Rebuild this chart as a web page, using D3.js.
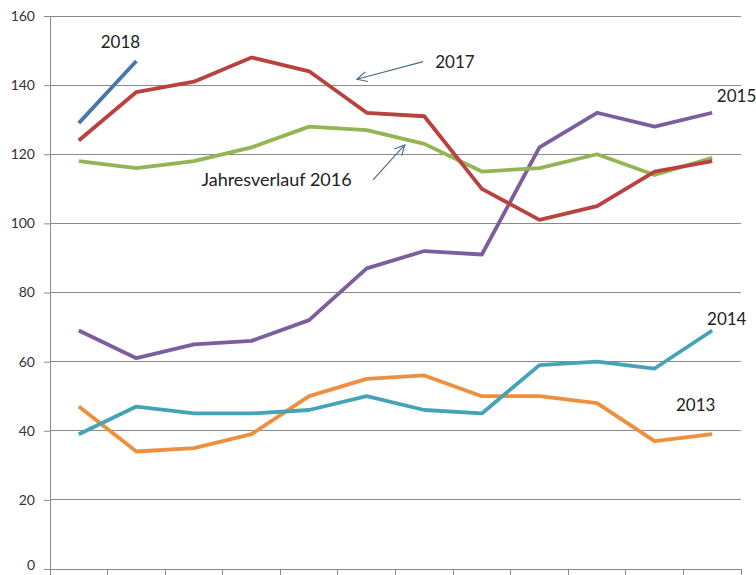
<!DOCTYPE html>
<html>
<head>
<meta charset="utf-8">
<script src="https://cdn.jsdelivr.net/npm/d3@7"></script>
<style>
  html, body { margin: 0; padding: 0; background: #fff; }
  svg { display: block; }
  text { font-family: Lato, "Open Sans", sans-serif; }
</style>
</head>
<body>
<svg id="chart" width="756" height="575"></svg>
<script>
// Months of the year (one band per month)
const months = ["Jan", "Feb", "Mär", "Apr", "Mai", "Jun", "Jul", "Aug", "Sep", "Okt", "Nov", "Dez"];
const yTicks = [0, 20, 40, 60, 80, 100, 120, 140, 160];

// Monthly values per year
const values2013 = [47, 34, 35, 39, 50, 55, 56, 50, 50, 48, 37, 39];
const values2014 = [39, 47, 45, 45, 46, 50, 46, 45, 59, 60, 58, 69];
const values2015 = [69, 61, 65, 66, 72, 87, 92, 91, 122, 132, 128, 132];
const values2016 = [118, 116, 118, 122, 128, 127, 123, 115, 116, 120, 114, 119];
const values2017 = [124, 138, 141, 148, 144, 132, 131, 110, 101, 105, 115, 118];
const values2018 = [129, 147];

const seriesColors = {
  "2013": "#ef8f3e",
  "2014": "#45a3b8",
  "2015": "#7c5e9f",
  "2016": "#93b553",
  "2017": "#b9413e",
  "2018": "#4a76ad"
};

const series = [
  { name: "2013", values: values2013 },
  { name: "2014", values: values2014 },
  { name: "2015", values: values2015 },
  { name: "2016", values: values2016 },
  { name: "2017", values: values2017 },
  { name: "2018", values: values2018 }
];

const svg = d3.select("#chart");
const margin = { left: 50, right: 15, top: 16, bottom: 6 };
const width = 756, height = 575;
const plotRight = width - margin.right;
const plotBottom = height - margin.bottom;

const xBand = d3.scaleBand().domain(months).range([margin.left, plotRight]).paddingInner(0).paddingOuter(0);
const x = d3.scalePoint().domain(months).range([margin.left, plotRight]).padding(0.5);
const y = d3.scaleLinear().domain([0, 160]).range([plotBottom, margin.top]);

// fractional month position, used for placing annotations
const xf = f => x(months[0]) + f * x.step();

// Horizontal gridlines
svg.append("g")
  .selectAll("line")
  .data(yTicks.filter(d => d > 0))
  .join("line")
  .attr("x1", margin.left).attr("x2", plotRight)
  .attr("y1", d => y(d)).attr("y2", d => y(d))
  .attr("stroke", "#8a8a8a").attr("stroke-width", 1)
  .attr("shape-rendering", "crispEdges");

// Y axis
const yAxis = svg.append("g")
  .attr("transform", `translate(${margin.left},0)`)
  .call(d3.axisLeft(y).tickValues(yTicks).tickSize(6).tickPadding(9));
yAxis.select(".domain").attr("stroke", "#8a8a8a");
yAxis.selectAll(".tick line").attr("stroke", "#8a8a8a");
yAxis.selectAll(".tick text").attr("fill", "#333").style("font-size", "14px");
// keep the bottom label inside the frame
yAxis.selectAll(".tick text").filter(d => d === 0).attr("dy", "0.05em");

// X axis: band boundary ticks pointing down, labels fall below the visible area
const xAxis = svg.append("g")
  .attr("transform", `translate(0,${plotBottom})`);
xAxis.append("line")
  .attr("x1", margin.left).attr("x2", plotRight)
  .attr("stroke", "#8a8a8a").attr("shape-rendering", "crispEdges");
const boundaries = months.map(m => xBand(m)).concat([plotRight]);
xAxis.selectAll("line.tk")
  .data(boundaries)
  .join("line")
  .attr("class", "tk")
  .attr("x1", d => d).attr("x2", d => d)
  .attr("y1", 0).attr("y2", 7)
  .attr("stroke", "#8a8a8a").attr("shape-rendering", "crispEdges");

// Lines
const line = d3.line()
  .x((d, i) => x(months[i]))
  .y(d => y(d));

svg.append("g")
  .selectAll("path")
  .data(series)
  .join("path")
  .attr("d", d => line(d.values))
  .attr("fill", "none")
  .attr("stroke", d => seriesColors[d.name])
  .attr("stroke-width", 3.8)
  .attr("stroke-linejoin", "round")
  .attr("stroke-linecap", "butt");

// Year labels
const labels = [
  { text: "2018", f: 0.38, v: 152.5, size: 17 },
  { text: "2017", f: 6.19, v: 146.8, size: 17 },
  { text: "2015", f: 11.08, v: 136.9, size: 17 },
  { text: "Jahresverlauf 2016", f: 2.13, v: 112.8, size: 18 },
  { text: "2014", f: 10.91, v: 72.3, size: 17 },
  { text: "2013", f: 10.37, v: 47.5, size: 17 }
];

svg.append("g")
  .selectAll("text")
  .data(labels)
  .join("text")
  .attr("x", d => xf(d.f))
  .attr("y", d => y(d.v))
  .attr("dy", "0.36em")
  .attr("fill", "#222")
  .style("font-size", d => d.size + "px")
  .text(d => d.text);

// Pointer arrows
const defs = svg.append("defs");
defs.append("marker")
  .attr("id", "openArrow")
  .attr("viewBox", "0 0 12 12")
  .attr("refX", 11).attr("refY", 6)
  .attr("markerWidth", 12).attr("markerHeight", 12)
  .attr("markerUnits", "userSpaceOnUse")
  .attr("orient", "auto")
  .append("path")
  .attr("d", "M1,1 L11,6 L1,11")
  .attr("fill", "none")
  .attr("stroke", "#4a6c90")
  .attr("stroke-width", 1.2);

const arrows = [
  { f1: 5.98, v1: 146.8, f2: 4.83, v2: 141.7 },
  { f1: 5.11, v1: 112.6, f2: 5.66, v2: 122.7 }
];

svg.append("g")
  .selectAll("line")
  .data(arrows)
  .join("line")
  .attr("x1", d => xf(d.f1)).attr("y1", d => y(d.v1))
  .attr("x2", d => xf(d.f2)).attr("y2", d => y(d.v2))
  .attr("stroke", "#4a6c90")
  .attr("stroke-width", 1.2)
  .attr("marker-end", "url(#openArrow)");
</script>
</body>
</html>
